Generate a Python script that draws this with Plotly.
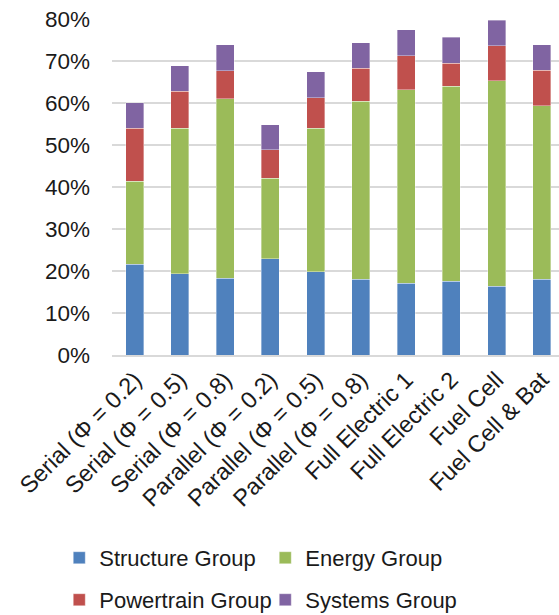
import plotly.graph_objects as go

categories = [
    "Serial (Φ = 0.2)", "Serial (Φ = 0.5)", "Serial (Φ = 0.8)",
    "Parallel (Φ = 0.2)", "Parallel (Φ = 0.5)", "Parallel (Φ = 0.8)",
    "Full Electric 1", "Full Electric 2", "Fuel Cell", "Fuel Cell & Bat",
]
structure = [21.6, 19.4, 18.3, 22.9, 19.8, 18.0, 17.1, 17.6, 16.4, 18.0]
energy = [19.8, 34.6, 42.7, 19.2, 34.2, 42.4, 46.1, 46.4, 48.9, 41.4]
powertrain = [12.6, 8.8, 6.7, 6.8, 7.3, 7.9, 8.1, 5.5, 8.3, 8.4]
systems = [6.1, 6.1, 6.2, 5.9, 6.2, 6.1, 6.2, 6.1, 6.1, 6.1]
y_ticks = [0, 10, 20, 30, 40, 50, 60, 70, 80]

series = [
    ("Structure Group", structure, "#4F81BD", "legend"),
    ("Energy Group", energy, "#9BBB59", "legend"),
    ("Powertrain Group", powertrain, "#C0504D", "legend2"),
    ("Systems Group", systems, "#8064A2", "legend2"),
]

fig = go.Figure()
for name, vals, color, leg in series:
    fig.add_trace(go.Bar(
        name=name,
        x=list(range(len(categories))),
        y=[v / 100 for v in vals],
        marker=dict(color=color, line=dict(color="rgba(255,255,255,0.6)", width=0.6)),
        width=0.4,
        legend=leg,
    ))

family = "Liberation Sans, Arial, sans-serif"
xtick_font = dict(family=family, size=23.5, color="#1a1a1a")
ytick_font = dict(family=family, size=22.5, color="#1a1a1a")
legend_font = dict(family=family, size=22, color="#1a1a1a")
legend_common = dict(
    orientation="h", xanchor="left", x=-0.118, yanchor="middle",
    font=legend_font, entrywidth=161, entrywidthmode="pixels",
    traceorder="normal",
    bgcolor="rgba(0,0,0,0)", itemclick=False,
)

fig.update_layout(
    width=559, height=615,
    margin=dict(l=112, r=0, t=19, b=260, autoexpand=False),
    barmode="stack",
    plot_bgcolor="white", paper_bgcolor="white",
    font=ytick_font,
    legend=dict(**legend_common, y=-0.604),
    legend2=dict(**legend_common, y=-0.729),
    xaxis=dict(
        tickmode="array",
        tickvals=list(range(len(categories))),
        ticktext=categories,
        tickangle=-45,
        range=[-0.5, 9.38],
        showgrid=False,
        showline=True, linecolor="#d9d9d9", linewidth=1.5,
        ticks="", automargin=False,
        tickfont=xtick_font,
    ),
    yaxis=dict(
        range=[0, 0.8],
        tickvals=[t / 100 for t in y_ticks],
        ticktext=[f"{t}%" for t in y_ticks],
        showgrid=True, gridcolor="#d9d9d9", gridwidth=1.5,
        zeroline=False, ticks="", automargin=False,
        ticklabelstandoff=21,
        tickfont=ytick_font,
    ),
)

fig.write_html("out.html")
